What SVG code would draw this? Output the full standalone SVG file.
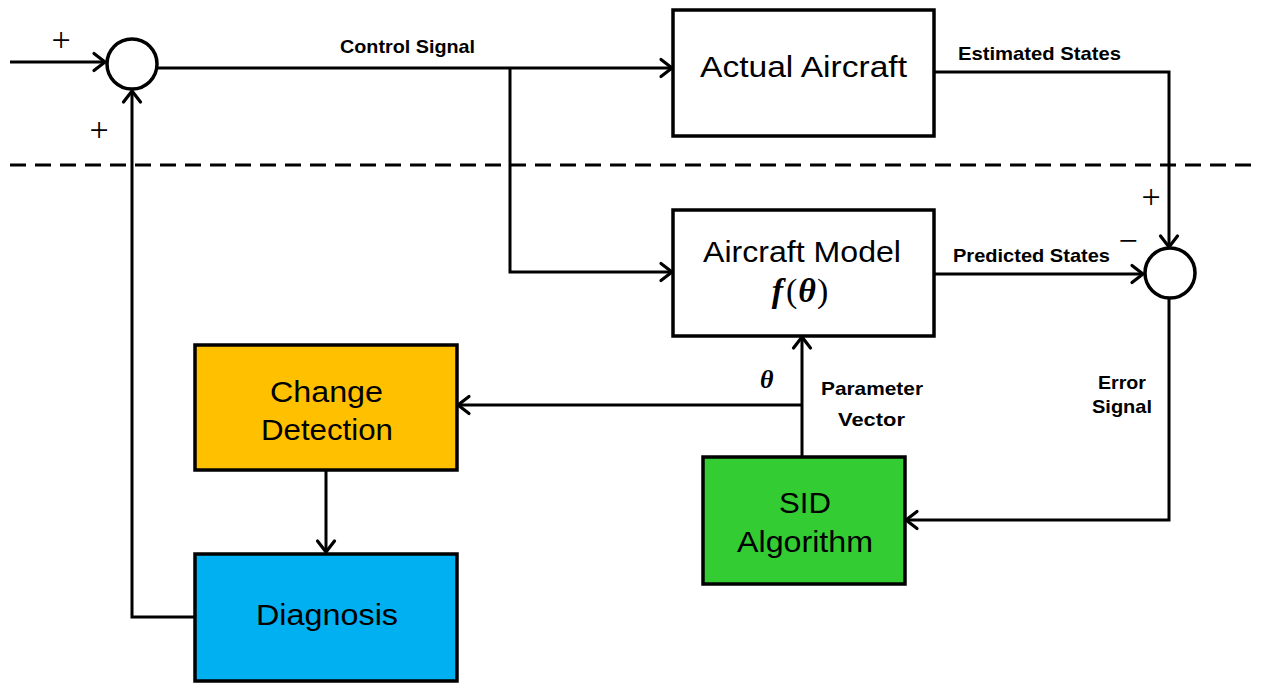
<svg xmlns="http://www.w3.org/2000/svg" width="1261" height="684" viewBox="0 0 1261 684">
  <style>
    .box { stroke: #000; stroke-width: 3.5; }
    .wire { fill: none; stroke: #000; stroke-width: 3; }
    .sum { fill: #fff; stroke: #000; stroke-width: 3.5; }
    .big { font-family: "Liberation Sans", Arial, sans-serif; font-size: 29px; fill: #000; }
    .lbl { font-family: "Liberation Sans", Arial, sans-serif; font-size: 19px; font-weight: bold; fill: #000; }
    .sign { font-family: "Liberation Serif", "Times New Roman", serif; font-size: 34px; fill: #000; text-anchor: middle; }
    .math { font-family: "Liberation Serif", "Times New Roman", serif; fill: #000; }
  </style>
  <defs>
    <marker id="arr" markerUnits="userSpaceOnUse" markerWidth="18" markerHeight="22" viewBox="0 0 18 22" refX="14" refY="11" orient="auto">
      <path d="M3,2.5 L14,11 L3,19.5" fill="none" stroke="#000" stroke-width="3.2" stroke-linecap="round" stroke-linejoin="round"/>
    </marker>
  </defs>
  <rect width="1261" height="684" fill="#fff"/>

  <!-- boundary between real aircraft and model side -->
  <line x1="10" y1="165" x2="1256" y2="165" stroke="#000" stroke-width="3" stroke-dasharray="16,9"/>

  <g id="connectors">
    <!-- reference input into first summing junction -->
    <line class="wire" x1="10" y1="62" x2="105" y2="62" marker-end="url(#arr)"/>
    <!-- control signal to actual aircraft -->
    <line class="wire" x1="157" y1="68" x2="672" y2="68" marker-end="url(#arr)"/>
    <!-- control signal branch to model -->
    <polyline class="wire" points="510,68 510,272 672,272" marker-end="url(#arr)"/>
    <!-- estimated states to error junction -->
    <polyline class="wire" points="934,72 1169,72 1169,247" marker-end="url(#arr)"/>
    <!-- predicted states to error junction -->
    <line class="wire" x1="934" y1="274" x2="1143" y2="274" marker-end="url(#arr)"/>
    <!-- error signal to SID -->
    <polyline class="wire" points="1169,299 1169,520 906,520" marker-end="url(#arr)"/>
    <!-- parameter vector to model -->
    <line class="wire" x1="802" y1="457" x2="802" y2="337" marker-end="url(#arr)"/>
    <!-- parameter vector to change detection -->
    <line class="wire" x1="802" y1="405" x2="458" y2="405" marker-end="url(#arr)"/>
    <!-- change detection to diagnosis -->
    <line class="wire" x1="326" y1="471" x2="326" y2="552" marker-end="url(#arr)"/>
    <!-- diagnosis feedback to first junction -->
    <polyline class="wire" points="195,617 132,617 132,91" marker-end="url(#arr)"/>
  </g>

  <g id="sum-input">
    <circle class="sum" cx="132" cy="64" r="25"/>
    <text class="sign" x="61" y="51">+</text>
    <text class="sign" x="99" y="141">+</text>
  </g>

  <g id="sum-error">
    <circle class="sum" cx="1170" cy="273" r="25"/>
    <text class="sign" x="1151" y="208">+</text>
    <text class="sign" x="1128" y="252" fill="#555">−</text>
  </g>

  <g id="actual-aircraft">
    <rect class="box" x="673" y="10" width="261" height="126" fill="#fff"/>
    <text class="big" x="700" y="77" textLength="207" lengthAdjust="spacingAndGlyphs">Actual Aircraft</text>
  </g>

  <g id="aircraft-model">
    <rect class="box" x="673" y="210" width="261" height="126" fill="#fff"/>
    <text class="big" x="703" y="262" textLength="198" lengthAdjust="spacingAndGlyphs">Aircraft Model</text>
    <text class="math" x="800" y="302" text-anchor="middle" font-size="34"><tspan font-style="italic" font-weight="bold">f</tspan><tspan dx="3">(</tspan><tspan dx="1" font-style="italic" font-weight="bold">θ</tspan><tspan dx="1">)</tspan></text>
  </g>

  <g id="change-detection">
    <rect class="box" x="195" y="345" width="262" height="125" fill="#FFC000"/>
    <text class="big" x="270" y="402" textLength="113" lengthAdjust="spacingAndGlyphs">Change</text>
    <text class="big" x="261" y="440" textLength="132" lengthAdjust="spacingAndGlyphs">Detection</text>
  </g>

  <g id="diagnosis">
    <rect class="box" x="195" y="554" width="262" height="127" fill="#00B0F0"/>
    <text class="big" x="256" y="625" textLength="142" lengthAdjust="spacingAndGlyphs">Diagnosis</text>
  </g>

  <g id="sid-algorithm">
    <rect class="box" x="703" y="457" width="202" height="127" fill="#33CC33"/>
    <text class="big" x="779" y="513" textLength="52" lengthAdjust="spacingAndGlyphs">SID</text>
    <text class="big" x="737" y="552" textLength="136" lengthAdjust="spacingAndGlyphs">Algorithm</text>
  </g>

  <g id="labels">
    <text class="lbl" x="340" y="53" textLength="135" lengthAdjust="spacingAndGlyphs">Control Signal</text>
    <text class="lbl" x="958" y="60" textLength="163" lengthAdjust="spacingAndGlyphs">Estimated States</text>
    <text class="lbl" x="953" y="262" textLength="157" lengthAdjust="spacingAndGlyphs">Predicted States</text>
    <text class="lbl" x="1098" y="389" textLength="48" lengthAdjust="spacingAndGlyphs">Error</text>
    <text class="lbl" x="1092" y="413" textLength="60" lengthAdjust="spacingAndGlyphs">Signal</text>
    <text class="lbl" x="821" y="395" textLength="102" lengthAdjust="spacingAndGlyphs">Parameter</text>
    <text class="lbl" x="838" y="426" textLength="67" lengthAdjust="spacingAndGlyphs">Vector</text>
    <text class="math" x="760" y="388" font-size="26" font-style="italic" font-weight="bold">θ</text>
  </g>
</svg>
